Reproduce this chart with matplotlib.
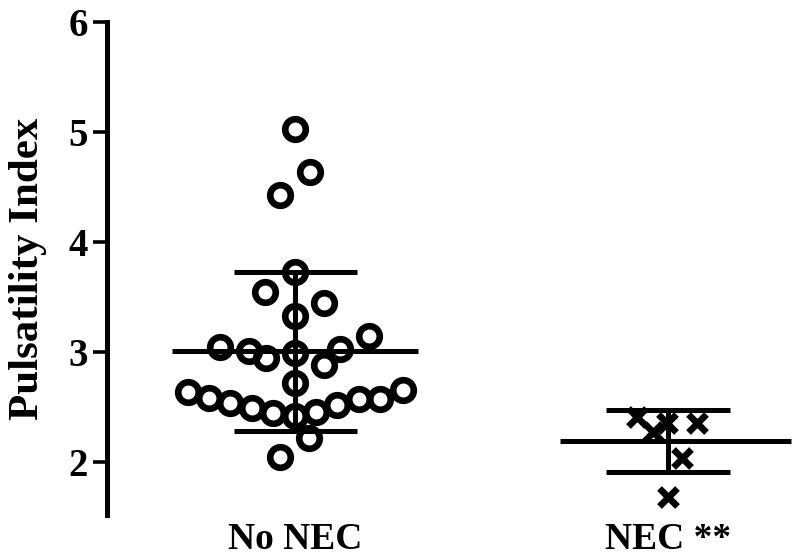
import matplotlib
matplotlib.use('Agg')
import matplotlib.pyplot as plt

plt.rcParams['font.family'] = ['Liberation Serif', 'DejaVu Serif']
plt.rcParams['font.weight'] = 'bold'

groups = ['No NEC', 'NEC **']

# No NEC: pulsatility index values and horizontal scatter offsets (group units)
no_nec_pi = [5.03, 4.64, 4.43, 3.73, 3.55, 3.45, 3.33, 3.15, 3.045, 3.01,
             2.95, 2.99, 3.03, 2.88, 2.72, 2.64, 2.58, 2.54, 2.49, 2.45,
             2.42, 2.46, 2.52, 2.57, 2.57, 2.66, 2.22, 2.05]
no_nec_dx = [0.0, 0.04, -0.04, 0.0, -0.08, 0.077, 0.0, 0.198, -0.201, -0.123,
             -0.078, 0.0, 0.121, 0.078, 0.0, -0.287, -0.231, -0.174, -0.115, -0.059,
             0.0, 0.056, 0.113, 0.172, 0.228, 0.29, 0.038, -0.04]

# NEC
nec_pi = [2.41, 2.27, 2.36, 2.36, 2.04, 1.68]
nec_dx = [-0.083, -0.04, -0.003, 0.078, 0.038, 0.0]

# mean and SD bars
means = [3.01, 2.19]
sd_upper = [3.73, 2.47]
sd_lower = [2.28, 1.91]

fig = plt.figure(figsize=(8, 5.57), dpi=100)
ax = fig.add_axes([0.134, 0.0754, 0.866, 0.8851])

lw = 3.6
# mean lines
ax.hlines(means[0], 1 - 0.33, 1 + 0.33, color='black', lw=lw, zorder=2)
ax.hlines(means[1], 2 - 0.29, 2 + 0.33, color='black', lw=lw, zorder=2)
# SD bars
for i in range(2):
    xc = i + 1
    ax.vlines(xc, sd_lower[i], sd_upper[i], color='black', lw=lw, zorder=2)
    ax.hlines([sd_lower[i], sd_upper[i]], xc - 0.165, xc + 0.165, color='black', lw=lw, zorder=2)

ax.plot([1 + d for d in no_nec_dx], no_nec_pi, ls='none', marker='o', ms=14.8,
        mew=4.8, mfc='none', mec='black', clip_on=False, zorder=3)
ax.plot([2 + d for d in nec_dx], nec_pi, ls='none', marker='x', ms=13.5,
        mew=4.8, color='black', clip_on=False, zorder=3)

ax.set_xlim(0.496, 2.354)
ax.set_ylim(1.52, 6.0)
ax.set_yticks([2, 3, 4, 5, 6])
ax.set_xticks([1, 2])
ax.set_xticklabels(groups)

for side in ['top', 'right', 'bottom']:
    ax.spines[side].set_visible(False)
ax.spines['left'].set_linewidth(3.6)
ax.tick_params(axis='y', length=10, width=2.6, pad=4, labelsize=28)
ax.tick_params(axis='x', length=0, pad=5, labelsize=27)
for lab in ax.get_xticklabels() + ax.get_yticklabels():
    lab.set_fontweight('bold')
ax.set_ylabel('Pulsatility Index', fontsize=31, fontweight='bold', labelpad=15)

fig.savefig('out.png', dpi=100)
